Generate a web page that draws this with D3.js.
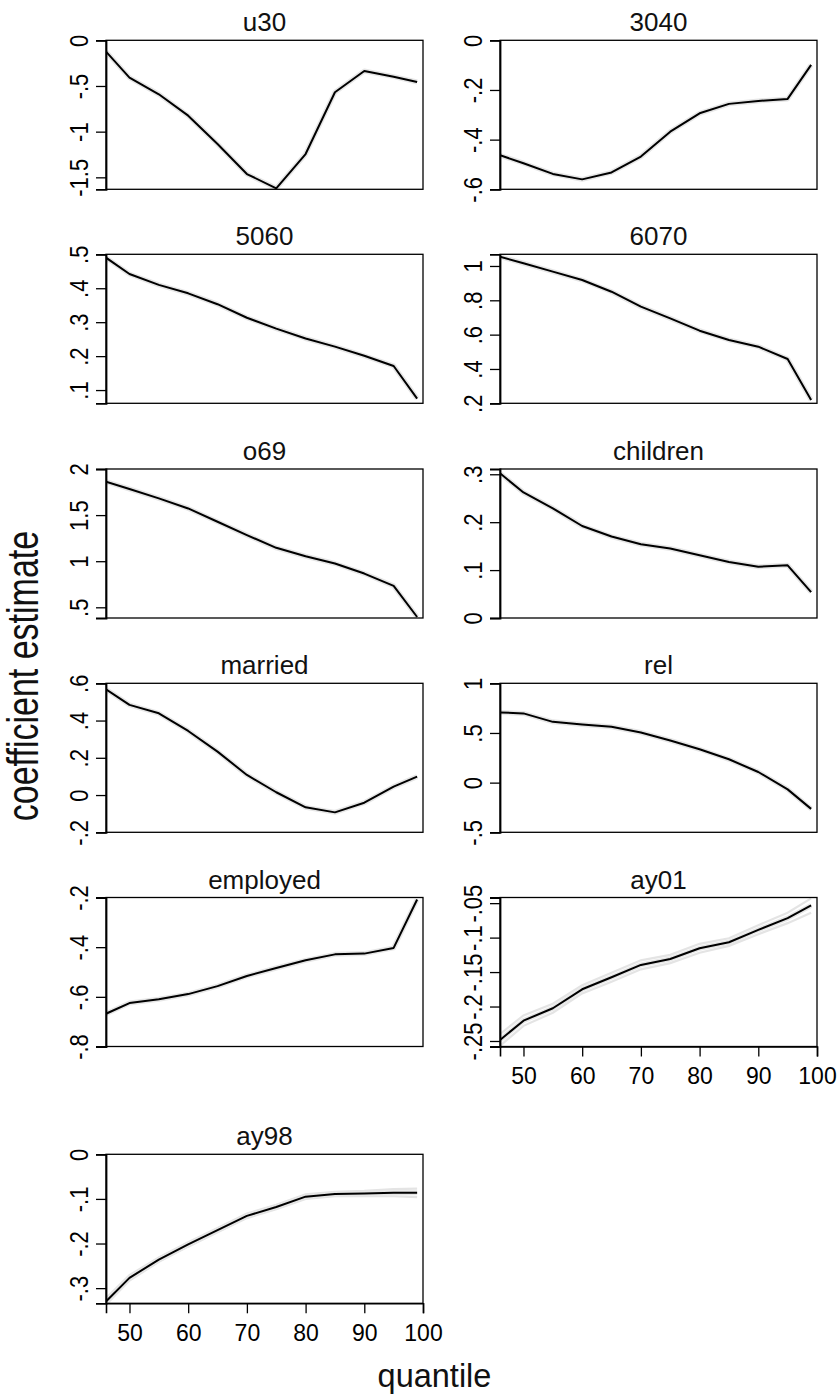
<!DOCTYPE html>
<html>
<head>
<meta charset="utf-8">
<script src="https://cdn.jsdelivr.net/npm/d3@7/dist/d3.min.js"></script>
<style>
  html, body { margin: 0; padding: 0; background: #fff; }
  svg { display: block; font-family: "Liberation Sans", Arial, Helvetica, sans-serif; }
</style>
</head>
<body>
<svg id="chart" width="840" height="1396"></svg>
<script>
// ---------- data ----------
const quantiles = [46, 50, 55, 60, 65, 70, 75, 80, 85, 90, 95, 99];
const xTicks = [50, 60, 70, 80, 90, 100];
const xRange = [46, 100];

const panelTitles = ["u30", "3040", "5060", "6070", "o69", "children", "married", "rel", "employed", "ay01", "ay98"];

const est_u30      = [-0.124, -0.409, -0.591, -0.825, -1.135, -1.464, -1.620, -1.245, -0.569, -0.336, -0.398, -0.456];
const est_3040     = [-0.463, -0.495, -0.538, -0.560, -0.532, -0.468, -0.368, -0.294, -0.256, -0.244, -0.236, -0.099];
const est_5060     = [0.490, 0.442, 0.410, 0.385, 0.353, 0.313, 0.281, 0.252, 0.228, 0.201, 0.171, 0.075];
const est_6070     = [1.054, 1.016, 0.967, 0.918, 0.850, 0.763, 0.695, 0.623, 0.569, 0.530, 0.458, 0.219];
const est_o69      = [1.862, 1.783, 1.681, 1.572, 1.428, 1.283, 1.145, 1.054, 0.975, 0.866, 0.732, 0.395];
const est_children = [0.302, 0.262, 0.229, 0.192, 0.170, 0.154, 0.145, 0.131, 0.117, 0.107, 0.110, 0.054];
const est_married  = [0.568, 0.484, 0.439, 0.344, 0.233, 0.108, 0.015, -0.066, -0.093, -0.041, 0.045, 0.099];
const est_rel      = [0.707, 0.697, 0.612, 0.585, 0.562, 0.505, 0.424, 0.336, 0.235, 0.107, -0.068, -0.264];
const est_employed = [-0.668, -0.625, -0.610, -0.589, -0.557, -0.516, -0.484, -0.453, -0.429, -0.426, -0.403, -0.208];
const est_ay01     = [-0.2485, -0.2205, -0.2025, -0.175, -0.1575, -0.1396, -0.131, -0.1154, -0.1067, -0.0887, -0.0718, -0.0534];
const est_ay98     = [-0.330, -0.277, -0.236, -0.202, -0.170, -0.138, -0.118, -0.095, -0.089, -0.088, -0.086, -0.086];

// confidence bands (visible in ay01 and ay98)
const hi_ay01 = [-0.240, -0.213, -0.196, -0.169, -0.151, -0.133, -0.125, -0.109, -0.101, -0.082, -0.064, -0.043];
const lo_ay01 = [-0.257, -0.228, -0.209, -0.181, -0.164, -0.146, -0.137, -0.122, -0.112, -0.095, -0.079, -0.064];
const hi_ay98 = [-0.323, -0.271, -0.231, -0.197, -0.165, -0.133, -0.113, -0.090, -0.084, -0.082, -0.078, -0.077];
const lo_ay98 = [-0.337, -0.283, -0.241, -0.207, -0.175, -0.143, -0.123, -0.100, -0.094, -0.094, -0.094, -0.096];

// y tick labels per panel
const ticks_u30      = [0, -0.5, -1, -1.5];
const ticks_3040     = [0, -0.2, -0.4, -0.6];
const ticks_5060     = [0.1, 0.2, 0.3, 0.4, 0.5];
const ticks_6070     = [0.2, 0.4, 0.6, 0.8, 1];
const ticks_o69      = [0.5, 1, 1.5, 2];
const ticks_children = [0, 0.1, 0.2, 0.3];
const ticks_married  = [-0.2, 0, 0.2, 0.4, 0.6];
const ticks_rel      = [-0.5, 0, 0.5, 1];
const ticks_employed = [-0.8, -0.6, -0.4, -0.2];
const ticks_ay01     = [-0.25, -0.2, -0.15, -0.1, -0.05];
const ticks_ay98     = [-0.3, -0.2, -0.1, 0];

// y axis ranges
const range_u30      = [-1.631, 0];
const range_3040     = [-0.6, 0];
const range_5060     = [0.061, 0.5];
const range_6070     = [0.2, 1.068];
const range_o69      = [0.384, 2];
const range_children = [0, 0.311];
const range_married  = [-0.2, 0.6];
const range_rel      = [-0.5, 1];
const range_employed = [-0.8, -0.2];
const range_ay01     = [-0.258, -0.0418];
const range_ay98     = [-0.334, 0];

const panels = [
  { est: est_u30,      ticks: ticks_u30,      range: range_u30 },
  { est: est_3040,     ticks: ticks_3040,     range: range_3040 },
  { est: est_5060,     ticks: ticks_5060,     range: range_5060 },
  { est: est_6070,     ticks: ticks_6070,     range: range_6070 },
  { est: est_o69,      ticks: ticks_o69,      range: range_o69 },
  { est: est_children, ticks: ticks_children, range: range_children },
  { est: est_married,  ticks: ticks_married,  range: range_married },
  { est: est_rel,      ticks: ticks_rel,      range: range_rel },
  { est: est_employed, ticks: ticks_employed, range: range_employed },
  { est: est_ay01,     ticks: ticks_ay01,     range: range_ay01, lo: lo_ay01, hi: hi_ay01, xAxis: true },
  { est: est_ay98,     ticks: ticks_ay98,     range: range_ay98, lo: lo_ay98, hi: hi_ay98, xAxis: true }
].map((p, i) => Object.assign(p, { title: panelTitles[i] }));

// ---------- layout ----------
const colLeft = [106, 500];
const plotW = 317;
const plotH = 149;
const rowTop = [40.3, 254.3, 469, 683.3, 897.5, 1154.3];

const yTickFont = 22;
const yTickStretch = 1.2;   // rotated labels appear widened horizontally
const xTickFont = 23;
const titleFont = 26;
const yTitleFont = 34;
const yTitleStretch = 1.28;
const xTitleFont = 32.5;

const fmt = v => {
  let s = String(Math.round(v * 1000) / 1000);
  return s.replace(/^(-?)0\./, "$1.");
};

const svg = d3.select("#chart");
svg.append("rect").attr("width", 840).attr("height", 1396).attr("fill", "#fff");

panels.forEach((p, i) => {
  const col = i % 2, row = Math.floor(i / 2);
  const left = colLeft[col], top = rowTop[row];
  const x = d3.scaleLinear().domain(xRange).range([left, left + plotW]);
  const y = d3.scaleLinear().domain(p.range).range([top + plotH, top]);

  const g = svg.append("g");
  const clipId = "clip" + i;
  g.append("clipPath").attr("id", clipId)
    .append("rect").attr("x", left).attr("y", top).attr("width", plotW).attr("height", plotH);

  const plot = g.append("g").attr("clip-path", `url(#${clipId})`);
  const line = d3.line().x((d, k) => x(quantiles[k])).y(d => y(d));

  if (p.lo) {
    plot.append("path").datum(p.lo).attr("d", line)
      .attr("fill", "none").attr("stroke", "#e4e4e4").attr("stroke-width", 2.2);
    plot.append("path").datum(p.hi).attr("d", line)
      .attr("fill", "none").attr("stroke", "#e4e4e4").attr("stroke-width", 2.2);
  }
  // faint halo (narrow confidence band)
  plot.append("path").datum(p.est).attr("d", line)
    .attr("fill", "none").attr("stroke", "#e6e6e6").attr("stroke-width", 5)
    .attr("stroke-linejoin", "round");
  plot.append("path").datum(p.est).attr("d", line)
    .attr("fill", "none").attr("stroke", "#000").attr("stroke-width", 2)
    .attr("stroke-linejoin", "round");

  // box
  g.append("rect").attr("x", left).attr("y", top).attr("width", plotW).attr("height", plotH)
    .attr("fill", "none").attr("stroke", "#000").attr("stroke-width", 1.3);

  // y axis
  const ya = g.append("g").attr("transform", `translate(${left},0)`)
    .call(d3.axisLeft(y).tickValues(p.ticks).tickSize(10).tickFormat(fmt));
  ya.select(".domain").attr("stroke", "#000").attr("stroke-width", 1.8);
  ya.selectAll(".tick line").attr("stroke", "#000").attr("stroke-width", 1.3);
  ya.selectAll(".tick text")
    .attr("transform", `translate(-18,0) scale(${yTickStretch},1) rotate(-90)`)
    .attr("x", 0).attr("y", 0).attr("dy", 0)
    .attr("text-anchor", "middle")
    .attr("fill", "#000")
    .style("font-size", yTickFont + "px")
    .style("font-family", "Liberation Sans, Arial, sans-serif");

  // x axis
  if (p.xAxis) {
    const xa = g.append("g").attr("transform", `translate(0,${top + plotH})`)
      .call(d3.axisBottom(x).tickValues(xTicks).tickSize(10).tickFormat(d3.format("d")));
    xa.select(".domain").attr("stroke", "#000").attr("stroke-width", 1.6);
    xa.selectAll(".tick line").attr("stroke", "#000").attr("stroke-width", 1.3);
    xa.selectAll(".tick text")
      .attr("y", 37.5).attr("dy", 0)
      .attr("fill", "#000")
      .style("font-size", xTickFont + "px")
      .style("font-family", "Liberation Sans, Arial, sans-serif");
  }

  // title
  g.append("text")
    .attr("x", left + plotW / 2).attr("y", top - 9)
    .attr("text-anchor", "middle")
    .attr("fill", "#111")
    .style("font-size", titleFont + "px")
    .text(p.title);
});

// axis titles
svg.append("text")
  .attr("transform", `translate(38,676) scale(${yTitleStretch},1) rotate(-90)`)
  .attr("text-anchor", "middle")
  .attr("fill", "#111")
  .style("font-size", yTitleFont + "px")
  .text("coefficient estimate");

svg.append("text")
  .attr("x", 434.5).attr("y", 1387)
  .attr("text-anchor", "middle")
  .attr("fill", "#111")
  .style("font-size", xTitleFont + "px")
  .text("quantile");
</script>
</body>
</html>
